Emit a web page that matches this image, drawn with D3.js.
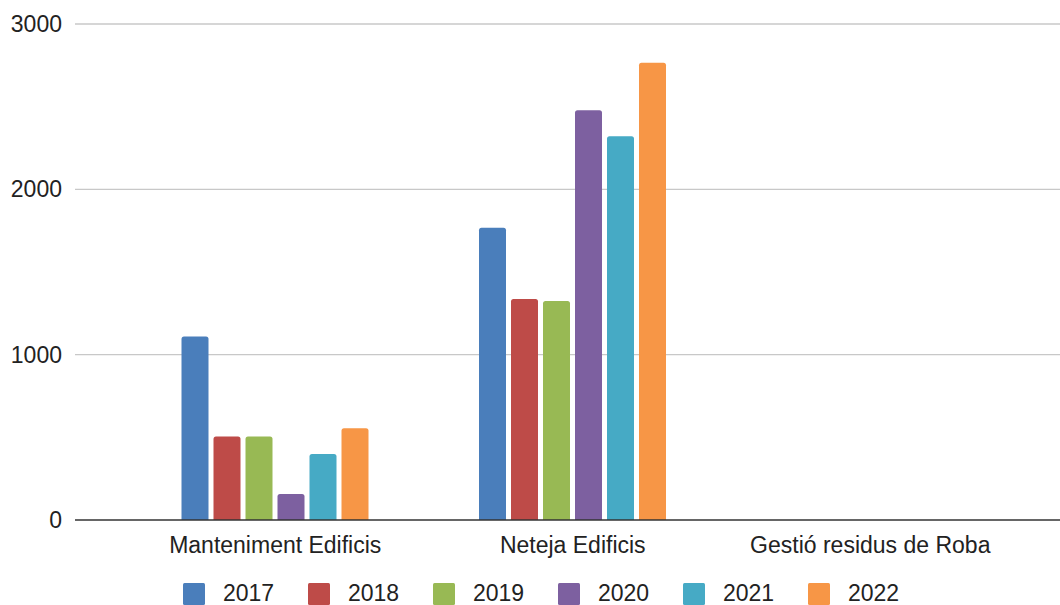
<!DOCTYPE html>
<html><head><meta charset="utf-8">
<script src="https://cdn.jsdelivr.net/npm/d3@7"></script>
<style>body{margin:0;background:#fff;} svg{display:block;font-family:"Liberation Sans",Arial,sans-serif;}</style>
</head><body>
<svg id="c" width="1060" height="605"></svg>
<script>
const categories = ["Manteniment Edificis", "Neteja Edificis", "Gestió residus de Roba"];
const years = ["2017", "2018", "2019", "2020", "2021", "2022"];
const v2017 = [1110, 1768, 0];
const v2018 = [505, 1337, 0];
const v2019 = [505, 1325, 0];
const v2020 = [157, 2478, 0];
const v2021 = [399, 2321, 0];
const v2022 = [555, 2766, 0];
const yTicks = [0, 1000, 2000, 3000];
const colors = ["#4a7ebb", "#be4b48", "#98b954", "#7d60a0", "#46aac5", "#f79646"];

const series = [v2017, v2018, v2019, v2020, v2021, v2022];
const svg = d3.select("#c");
const plotL = 75, plotR = 1060;
const fs = 23;
const y = d3.scaleLinear().domain([0, 3000]).range([520, 24]);
const x0 = d3.scaleBand().domain(categories).range([126.5, 1019]).padding(0);
const x1 = d3.scaleBand().domain(years).range([55, 242]).paddingInner(5/32).paddingOuter(0);
const color = d3.scaleOrdinal().domain(years).range(colors);

// gridlines
svg.append("g").selectAll("line").data(yTicks.filter(d => d !== 0)).join("line")
  .attr("x1", plotL).attr("x2", plotR)
  .attr("y1", d => y(d)).attr("y2", d => y(d))
  .attr("stroke", "#c8c8c8").attr("stroke-width", 1.3);

// y tick labels
svg.append("g").selectAll("text").data(yTicks).join("text")
  .attr("x", 62).attr("y", d => y(d)).attr("dy", "0.35em")
  .attr("text-anchor", "end").attr("font-size", fs).attr("fill", "#222")
  .text(d => d);

// bars
const groups = svg.append("g").selectAll("g").data(categories).join("g")
  .attr("transform", c => `translate(${x0(c)},0)`);
groups.selectAll("path").data((c, i) => years.map((yr, j) => ({yr, v: series[j][i]})).filter(d => d.v > 0))
  .join("path")
  .attr("fill", d => color(d.yr))
  .attr("d", d => {
    const xL = x1(d.yr), w = x1.bandwidth(), top = y(d.v), bot = y(0), r = 2.5;
    return `M${xL},${bot}V${top + r}Q${xL},${top} ${xL + r},${top}H${xL + w - r}Q${xL + w},${top} ${xL + w},${top + r}V${bot}Z`;
  });

// baseline
svg.append("line").attr("x1", plotL).attr("x2", plotR)
  .attr("y1", y(0)).attr("y2", y(0)).attr("stroke", "#333").attr("stroke-width", 1.6);

// category labels
svg.append("g").selectAll("text").data(categories).join("text")
  .attr("x", c => x0(c) + x0.bandwidth() / 2).attr("y", 553)
  .attr("text-anchor", "middle").attr("font-size", fs).attr("fill", "#222")
  .text(c => c);

// legend
const leg = svg.append("g").selectAll("g").data(years).join("g")
  .attr("transform", (d, i) => `translate(${183 + i * 125},583)`);
leg.append("rect").attr("width", 22).attr("height", 22).attr("rx", 1.5).attr("fill", d => color(d));
leg.append("text").attr("x", 40).attr("y", 18).attr("font-size", fs).attr("fill", "#222").text(d => d);
</script>
</body></html>
